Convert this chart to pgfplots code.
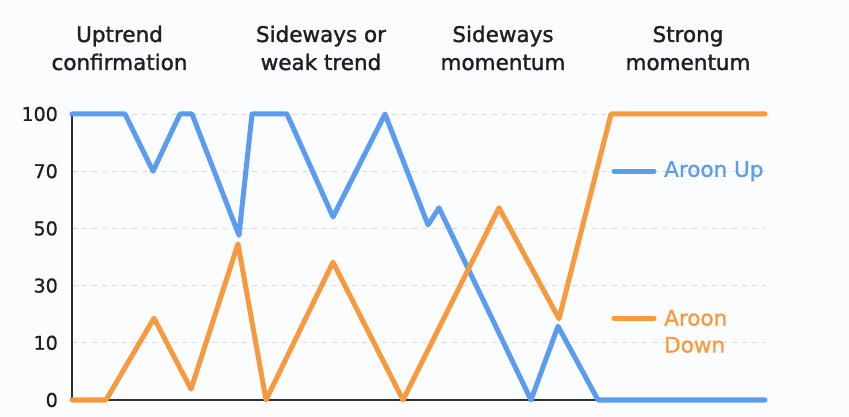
\documentclass[border=0pt]{standalone}
\usepackage{pgfplots}
\pgfplotsset{compat=1.18}
\usepackage{fontspec}
\setmainfont{DejaVu Sans}
\newfontfamily\medfont{DejaVu Sans}[FakeBold=1.4]
\newfontfamily\semifont{DejaVu Sans}[FakeBold=0.9]

\definecolor{upblue}{RGB}{91,156,240}
\definecolor{downorange}{RGB}{247,153,62}
\definecolor{spine}{RGB}{43,47,54}
\definecolor{gridgray}{RGB}{214,218,223}
\definecolor{bg}{RGB}{251,252,253}
\definecolor{txt}{RGB}{28,31,36}

% y positions are tick slots: 0,1,...,5 carry the labels 0,10,30,50,70,100
\pgfplotstableread{
x y
0   5
53  5
81  4
108 5
120 5
167 2.88
180 5
215 5
261 3.20
313 5
356 3.06
367 3.36
459 0
486 1.29
526 0
693 0
}\aroonup

\pgfplotstableread{
x y
0   0
34  0
82  1.43
119 0.19
166 2.73
194 0
261 2.41
331 0
427 3.36
487 1.42
539 5
693 5
}\aroondown

\begin{document}
\begin{tikzpicture}[font=\semifont\fontsize{21.5bp}{26bp}\selectfont]
\path[use as bounding box] (-72bp,-17bp) rectangle (777bp,400bp);
\fill[bg] (-72bp,-17bp) rectangle (777bp,400bp);

\begin{axis}[
    at={(0,0)}, anchor=origin,
    scale only axis,
    width=693bp, height=286bp,
    xmin=0, xmax=693, ymin=0, ymax=5,
    clip=false,
    axis x line*=bottom, axis y line*=left,
    axis line style={spine, line width=1.6bp, -},
    xtick=\empty,
    ytick={0,1,2,3,4,5},
    yticklabels={0,10,30,50,70,100},
    ytick style={draw=none},
    yticklabel style={anchor=east, inner sep=0pt, xshift=-14bp,
        font=\semifont\fontsize{19bp}{22bp}\selectfont, text=txt},
    /pgf/number format/assume math mode=true,
    ymajorgrids,
    grid style={gridgray, line width=0.9bp, dash pattern=on 5bp off 5bp},
]
\addplot[upblue, line width=5bp, line cap=round, line join=round]
    table[x=x, y=y] {\aroonup};
\addplot[downorange, line width=5bp, line cap=round, line join=round]
    table[x=x, y=y] {\aroondown};

% legend
\draw[upblue, line width=5bp, line cap=round] (axis cs:542,4) -- (axis cs:582,4);
\node[anchor=west, text=upblue, inner sep=0pt] at (axis cs:592,4) {Aroon Up};
\draw[downorange, line width=5bp, line cap=round] (axis cs:542,1.43) -- (axis cs:582,1.43);
\node[anchor=west, text=downorange, inner sep=0pt, align=left,
      font=\semifont\fontsize{21.5bp}{27bp}\selectfont] at (axis cs:592,1.2) {Aroon\\Down};
\end{axis}

% regime headers
\foreach \cx/\la/\lb in {47.5/Uptrend/confirmation, 249/Sideways or/weak trend,
                        431/Sideways/momentum, 616/Strong/momentum} {
  \node[anchor=base, text=txt, inner sep=0pt, font=\medfont\fontsize{21.5bp}{26bp}\selectfont]
    at (\cx bp,358bp) {\la};
  \node[anchor=base, text=txt, inner sep=0pt, font=\medfont\fontsize{21.5bp}{26bp}\selectfont]
    at (\cx bp,330bp) {\lb};
}
\end{tikzpicture}
\end{document}
